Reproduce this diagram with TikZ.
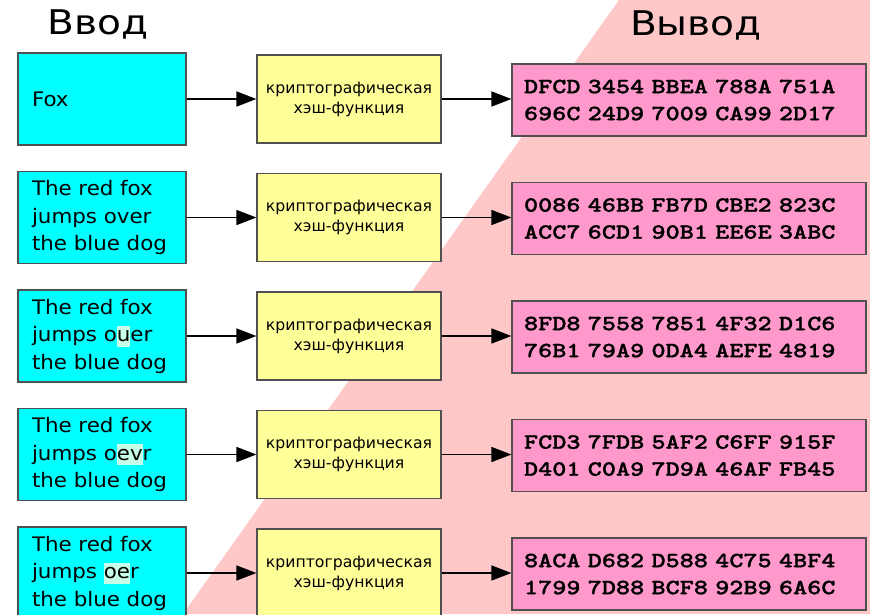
\documentclass[tikz,border=0pt]{standalone}
\usepackage{fontspec}
\setmainfont{DejaVu Sans}
\newfontfamily\titlefont[FakeStretch=1.15]{DejaVu Sans}
\newfontfamily\boxfont[FakeStretch=1.07]{DejaVu Sans}
\newfontfamily\hashfont{DejaVu Sans}
\newfontfamily\hexfont[FakeStretch=1.24,FakeBold=1.2]{lmmonolt10-bold.otf}
\usetikzlibrary{arrows.meta}

\definecolor{bgpink}{HTML}{FFC8C8}
\definecolor{incyan}{HTML}{00FFFF}
\definecolor{hashyellow}{HTML}{FFFF99}
\definecolor{outpink}{HTML}{FF99CC}
\definecolor{boxline}{HTML}{505050}
\definecolor{hlgreen}{HTML}{C8FFE8}

% light marker behind changed letters
\newcommand\hlt[1]{{\setlength{\fboxsep}{0pt}\colorbox{hlgreen}{\rule[-5pt]{0pt}{21pt}#1}}}

\tikzset{
  heading/.style={anchor=base, inner sep=0pt, font=\titlefont\fontsize{34}{34}\selectfont},
  inbox/.style={draw=boxline, line width=1.2pt, fill=incyan,
    minimum width=168pt, minimum height=92pt, text width=140pt,
    inner xsep=14pt, inner ysep=0pt, align=left,
    font=\boxfont\fontsize{20}{27.5}\selectfont},
  hashbox/.style={draw=boxline, line width=1.2pt, fill=hashyellow,
    minimum width=184pt, minimum height=88pt, text width=172pt,
    inner xsep=6pt, inner ysep=0pt, align=center,
    font=\hashfont\fontsize{15.7}{20}\selectfont},
  outbox/.style={draw=boxline, line width=1.2pt, fill=outpink,
    minimum width=354pt, minimum height=72pt, text width=330pt,
    inner xsep=12pt, inner ysep=0pt, align=left,
    font=\hexfont\fontsize{21.7}{27}\selectfont},
  arr/.style={line width=1.5pt, -{Triangle[length=20pt,width=15pt]}}
}

\begin{document}
\begin{tikzpicture}[x=1pt,y=-1pt]
\clip (0,0) rectangle (870,614);
\useasboundingbox (0,0) rectangle (870,614);

% diagonal pink band behind the output side
\fill[bgpink] (619,0) -- (870,0) -- (870,614) -- (183,614) -- cycle;

\node[heading] (tin)  at (98,34)  {Ввод};
\node[heading] (tout) at (696,35) {Вывод};

% row 1
\node[inbox]   (in1)   at (102,99)  {Fox};
\node[hashbox] (hash1) at (349,99)  {криптографическая\\хэш-функция};
\node[outbox]  (out1)  at (689,100) {DFCD 3454 BBEA 788A 751A\\696C 24D9 7009 CA99 2D17};

% row 2
\node[inbox]   (in2)   at (102,217.5) {The red fox\\jumps over\\the blue dog};
\node[hashbox] (hash2) at (349,217.5) {криптографическая\\хэш-функция};
\node[outbox]  (out2)  at (689,218.5) {0086 46BB FB7D CBE2 823C\\ACC7 6CD1 90B1 EE6E 3ABC};

% row 3
\node[inbox]   (in3)   at (102,336) {The red fox\\jumps o\hlt{u}er\\the blue dog};
\node[hashbox] (hash3) at (349,336) {криптографическая\\хэш-функция};
\node[outbox]  (out3)  at (689,337) {8FD8 7558 7851 4F32 D1C6\\76B1 79A9 0DA4 AEFE 4819};

% row 4
\node[inbox]   (in4)   at (102,454.5) {The red fox\\jumps o\hlt{ev}r\\the blue dog};
\node[hashbox] (hash4) at (349,454.5) {криптографическая\\хэш-функция};
\node[outbox]  (out4)  at (689,455.5) {FCD3 7FDB 5AF2 C6FF 915F\\D401 C0A9 7D9A 46AF FB45};

% row 5
\node[inbox]   (in5)   at (102,573) {The red fox\\jumps \hlt{oe}r\\the blue dog};
\node[hashbox] (hash5) at (349,573) {криптографическая\\хэш-функция};
\node[outbox]  (out5)  at (689,574) {8ACA D682 D588 4C75 4BF4\\1799 7D88 BCF8 92B9 6A6C};

\foreach \i in {1,...,5}{
  \draw[arr] (in\i) -- (hash\i);
  \draw[arr] (hash\i) -- (out\i.west |- hash\i);
}
\end{tikzpicture}
\end{document}
